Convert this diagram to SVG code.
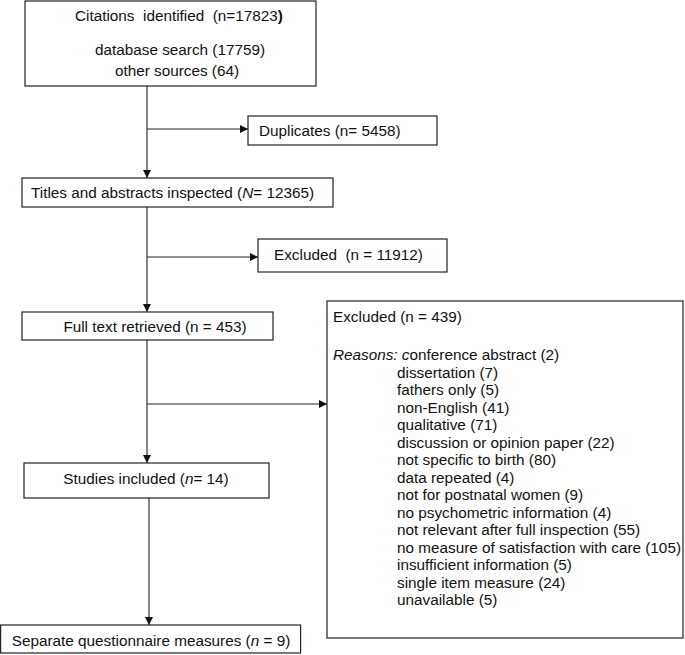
<svg xmlns="http://www.w3.org/2000/svg" width="685" height="655" viewBox="0 0 685 655">
<style>
text{font-family:"Liberation Sans",Arial,sans-serif;font-size:15.3px;fill:#111;white-space:pre}
.box{fill:#fff;stroke:#222;stroke-width:1.2}
.ln{stroke:#222;stroke-width:1.1;fill:none}
.it{font-style:italic}
</style>
<defs>
<marker id="ah" viewBox="0 0 10 10" refX="10" refY="5" markerWidth="9" markerHeight="8" markerUnits="userSpaceOnUse" orient="auto">
<path d="M0,0 L10,5 L0,10 Z" fill="#111"/>
</marker>
</defs>
<rect width="685" height="655" fill="#fff"/>
<g id="connectors">
<line class="ln" x1="147" y1="86" x2="147" y2="178" marker-end="url(#ah)"/>
<line class="ln" x1="147" y1="129" x2="248" y2="129" marker-end="url(#ah)"/>
<line class="ln" x1="147" y1="207" x2="147" y2="312" marker-end="url(#ah)"/>
<line class="ln" x1="147" y1="257" x2="258" y2="257" marker-end="url(#ah)"/>
<line class="ln" x1="147" y1="340" x2="147" y2="463" marker-end="url(#ah)"/>
<line class="ln" x1="147" y1="404" x2="327" y2="404" marker-end="url(#ah)"/>
<line class="ln" x1="149" y1="498" x2="149" y2="625" marker-end="url(#ah)"/>
</g>
<g id="citations">
<rect class="box" x="25" y="1" width="291" height="85"/>
<text x="75" y="21">Citations  identified  (n=17823<tspan font-weight="bold">)</tspan></text>
<text x="180" y="55" text-anchor="middle">database search (17759)</text>
<text x="177" y="76" text-anchor="middle">other sources (64)</text>
</g>
<g id="duplicates">
<rect class="box" x="248" y="116" width="189" height="29"/>
<text x="259" y="136">Duplicates (n= 5458)</text>
</g>
<g id="titles">
<rect class="box" x="22" y="178" width="311" height="29"/>
<text x="31" y="198">Titles and abstracts inspected (<tspan class="it">N</tspan>= 12365)</text>
</g>
<g id="excluded1">
<rect class="box" x="258" y="239" width="189" height="33"/>
<text x="274" y="260">Excluded  (n = 11912)</text>
</g>
<g id="fulltext">
<rect class="box" x="22" y="312" width="251" height="28"/>
<text x="155" y="332" text-anchor="middle">Full text retrieved (n = 453)</text>
</g>
<g id="excluded2">
<rect class="box" x="327" y="301" width="356" height="337"/>
<text x="333" y="322">Excluded (n = 439)</text>
<text x="333" y="360"><tspan class="it">Reasons: c</tspan>onference abstract (2)</text>
<text x="397" y="377.5">dissertation (7)</text>
<text x="397" y="395">fathers only (5)</text>
<text x="397" y="412.5">non-English (41)</text>
<text x="397" y="430">qualitative (71)</text>
<text x="397" y="447.5">discussion or opinion paper (22)</text>
<text x="397" y="465">not specific to birth (80)</text>
<text x="397" y="482.5">data repeated (4)</text>
<text x="397" y="500">not for postnatal women (9)</text>
<text x="397" y="517.5">no psychometric information (4)</text>
<text x="397" y="535">not relevant after full inspection (55)</text>
<text x="397" y="552.5">no measure of satisfaction with care (105)</text>
<text x="397" y="570">insufficient information (5)</text>
<text x="397" y="587.5">single item measure (24)</text>
<text x="397" y="605">unavailable (5)</text>
</g>
<g id="studies">
<rect class="box" x="24" y="463" width="245" height="35"/>
<text x="146" y="484" text-anchor="middle">Studies included (<tspan class="it">n</tspan>= 14)</text>
</g>
<g id="separate">
<rect class="box" x="0.6" y="625" width="300" height="28"/>
<text x="151" y="646" text-anchor="middle">Separate questionnaire measures (<tspan class="it">n</tspan> = 9)</text>
</g>
</svg>
